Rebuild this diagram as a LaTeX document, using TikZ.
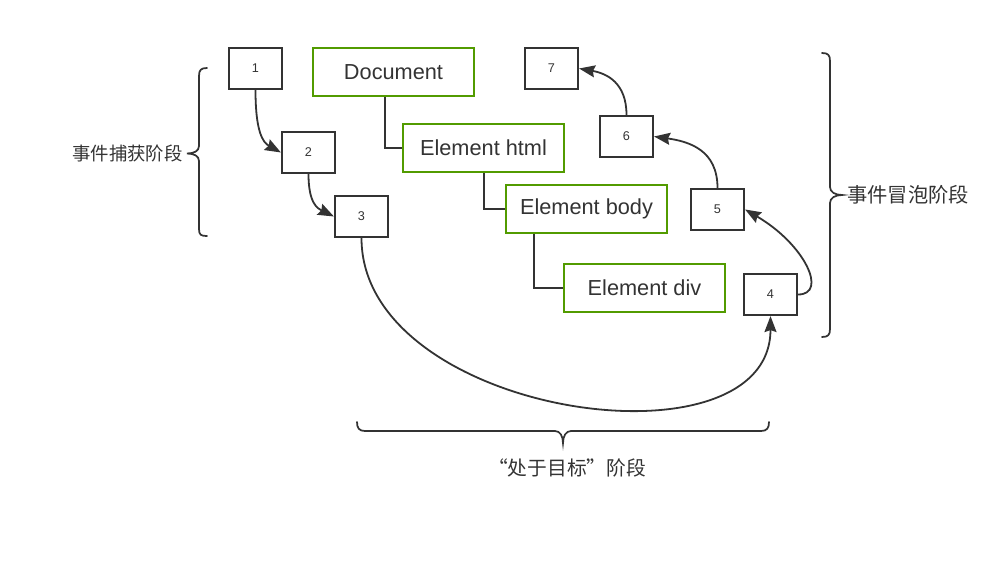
\documentclass[tikz,border=0pt]{standalone}
\usepackage{fontspec}
\setmainfont{Liberation Sans}
\newfontfamily\cjk{Noto Sans CJK SC}
\usetikzlibrary{arrows.meta}
\definecolor{lin}{RGB}{51,51,51}
\definecolor{grn}{RGB}{82,155,0}
\tikzset{
  numbox/.style={draw=lin, line width=1.6pt, minimum width=39.75pt, minimum height=30.75pt, inner sep=0pt, font=\fontsize{9.5}{10}\selectfont, text=lin},
  elbox/.style={draw=grn, line width=1.5pt, minimum width=120.75pt, minimum height=36pt, inner sep=0pt, font=\fontsize{16.3}{18}\selectfont, text=lin},
  tree/.style={draw=lin, line width=1.3pt},
  arr/.style={draw=lin, line width=1.35pt, -{Stealth[length=12pt,width=9pt,inset=1.5pt]}},
  brace/.style={draw=lin, line width=1.3pt, line cap=round},
  lbl/.style={font=\cjk\fontsize{14.5}{16}\selectfont, text=lin, inner sep=0pt}
}
\begin{document}
\begin{tikzpicture}[x=0.75pt,y=-0.75pt]
\useasboundingbox (0,0) rectangle (1008,563);
% number boxes
\node[numbox] (n1) at (255.5,68.5) {1};
\node[numbox] (n2) at (308.5,152.5) {2};
\node[numbox] (n3) at (361.5,216.5) {3};
\node[numbox] (n4) at (770.5,294.5) {4};
\node[numbox] (n5) at (717.5,209.5) {5};
\node[numbox] (n6) at (626.5,136.5) {6};
\node[numbox] (n7) at (551.5,68.5) {7};
% element boxes
\node[elbox] (doc) at (393.5,72) {Document};
\node[elbox] (html) at (483.5,148) {Element html};
\node[elbox] (body) at (586.5,209) {Element body};
\node[elbox] (div) at (644.5,288) {Element div};
% tree connectors
\draw[tree] (doc.south -| 385,0) |- (html.west);
\draw[tree] (html.south -| 484,0) |- (body.west);
\draw[tree] (body.south -| 534,0) |- (div.west);
% arrows
\draw[arr] (n1.south) .. controls +(0,42) and +(-18,-10) .. (n2.west);
\draw[arr] (n2.south) .. controls +(0,30) and +(-16,-8) .. (n3.west);
\draw[arr] (n3.south) .. controls +(0,178) and +(0,158) .. (n4.south);
\draw[arr] (n4.east) .. controls +(30,0) and +(60,35) .. (n5.east);
\draw[arr] (n5.north) .. controls +(0,-38) and +(35,5) .. (n6.east);
\draw[arr] (n6.north) .. controls +(0,-32) and +(28,5) .. (n7.east);
% braces
\draw[brace] (207,68) .. controls (201,68) and (199,70) .. (199,76) -- (199,146)
  .. controls (199,151) and (194,153.5) .. (187,153.5)
  .. controls (194,153.5) and (199,156) .. (199,161) -- (199,229)
  .. controls (199,235) and (201,236) .. (207,236);
\draw[brace] (822,53) .. controls (828,53) and (830,55) .. (830,61) -- (830,187)
  .. controls (830,192) and (835,195) .. (842,195)
  .. controls (835,195) and (830,198) .. (830,203) -- (830,329)
  .. controls (830,335) and (828,337) .. (822,337);
\draw[brace] (357,422) .. controls (357,428) and (359,431) .. (365,431) -- (555,431)
  .. controls (560,431) and (563,436) .. (563,443)
  .. controls (563,436) and (566,431) .. (571,431) -- (761,431)
  .. controls (767,431) and (769,428) .. (769,422);
% labels
\node[lbl, anchor=east, font=\cjk\fontsize{13.8}{16}\selectfont] (cap) at (183,153) {事件捕获阶段};
\node[lbl, anchor=west, font=\cjk\fontsize{15.2}{17}\selectfont] (bub) at (847,195) {事件冒泡阶段};
\node[lbl, font=\cjk\fontsize{14.8}{17}\selectfont] (tgt) at (567,468) {“处于目标”阶段};
\end{tikzpicture}
\end{document}
